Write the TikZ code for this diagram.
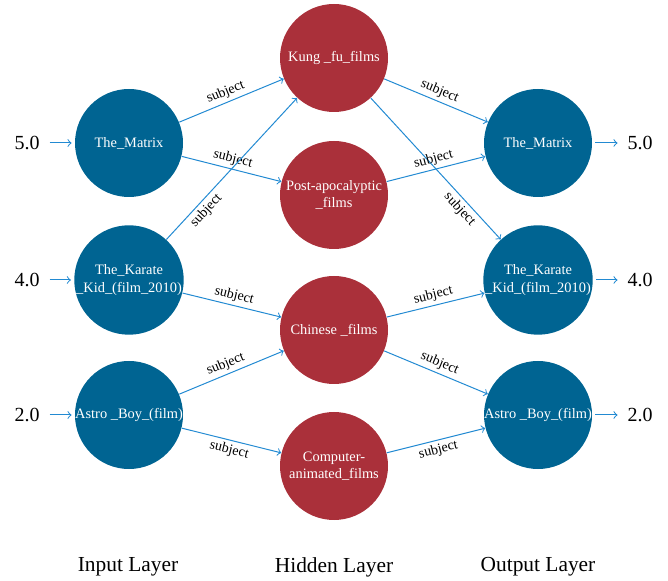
\documentclass[tikz,border=0pt]{standalone}
\usepackage{fontspec}
\setmainfont{Liberation Serif}
\definecolor{inblue}{RGB}{0,100,146}
\definecolor{hidred}{RGB}{170,48,58}
\definecolor{edgeblue}{RGB}{34,138,210}
\begin{document}
\begin{tikzpicture}[x=0.5pt,y=-0.5pt,
  neuron/.style={circle,minimum size=54pt,inner sep=0pt,draw=none,text=white,
    align=center,font=\fontsize{7.2}{8.6}\selectfont},
  innode/.style={neuron,fill=inblue},
  hidnode/.style={neuron,fill=hidred},
  valnode/.style={font=\fontsize{10}{12}\selectfont,inner sep=0pt,outer sep=5pt},
  laynode/.style={font=\fontsize{10.7}{12}\selectfont,inner sep=0pt},
  conn/.style={draw=edgeblue,line width=0.5pt,->},
  lab/.style={font=\fontsize{7}{8}\selectfont,sloped,text=black,inner sep=1.5pt}]
\useasboundingbox (0,0) rectangle (668,581);
% input layer
\node[innode] (i1) at (129,143) {The\_Matrix};
\node[innode] (i2) at (129,280) {The\_Karate\\\_Kid\_(film\_2010)};
\node[innode] (i3) at (129,415) {Astro \_Boy\_(film)};
% hidden layer
\node[hidnode] (h1) at (334,58) {Kung \_fu\_films};
\node[hidnode] (h2) at (334,195) {Post-apocalyptic\\\_films};
\node[hidnode] (h3) at (334,330) {Chinese \_films};
\node[hidnode] (h4) at (334,466) {Computer-\\animated\_films};
% output layer
\node[innode] (o1) at (538,143) {The\_Matrix};
\node[innode] (o2) at (538,280) {The\_Karate\\\_Kid\_(film\_2010)};
\node[innode] (o3) at (538,415) {Astro \_Boy\_(film)};
% values
\node[valnode] (v1) at (27,143) {5.0};
\node[valnode] (v2) at (27,280) {4.0};
\node[valnode] (v3) at (27,415) {2.0};
\node[valnode] (w1) at (640,143) {5.0};
\node[valnode] (w2) at (640,280) {4.0};
\node[valnode] (w3) at (640,415) {2.0};
\foreach \k in {1,2,3}{
  \path[conn,shorten >=1.5pt] (v\k) -- (i\k);
  \path[conn,shorten <=1.5pt] (o\k) -- (w\k);
}
% layer labels
\node[laynode] (l1) at (128,567) {Input Layer};
\node[laynode] (l2) at (334,567) {Hidden Layer};
\node[laynode] (l3) at (538,567) {Output Layer};
% connections input -> hidden
\path[conn] (i1) -- node[lab,above,pos=0.48] {subject} (h1);
\path[conn] (i1) -- node[lab,above,pos=0.49] {subject} (h2);
\path[conn] (i2) -- node[lab,below,pos=0.25] {subject} (h1);
\path[conn] (i2) -- node[lab,above,pos=0.5] {subject} (h3);
\path[conn] (i3) -- node[lab,above,pos=0.48] {subject} (h3);
\path[conn] (i3) -- node[lab,below,pos=0.5] {subject} (h4);
% connections hidden -> output
\path[conn] (h1) -- node[lab,above,pos=0.5] {subject} (o1);
\path[conn] (h1) -- node[lab,below,pos=0.74] {subject} (o2);
\path[conn] (h2) -- node[lab,above,pos=0.5] {subject} (o1);
\path[conn] (h3) -- node[lab,above,pos=0.5] {subject} (o2);
\path[conn] (h3) -- node[lab,above,pos=0.5] {subject} (o3);
\path[conn] (h4) -- node[lab,below,pos=0.5] {subject} (o3);
\end{tikzpicture}
\end{document}
